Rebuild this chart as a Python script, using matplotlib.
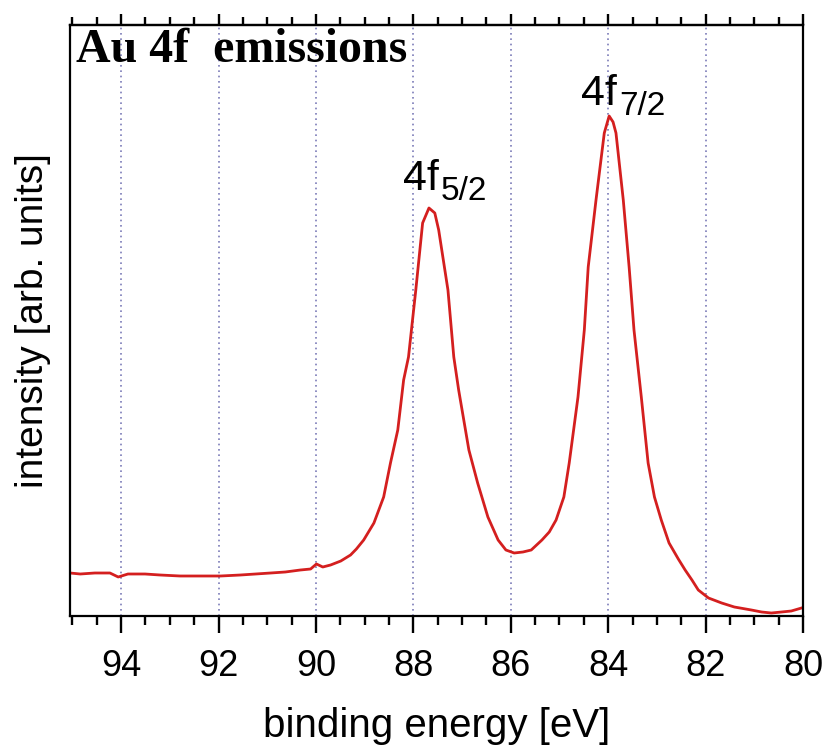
#! /usr/bin/env python3
# Au 4f XPS spectrum

import matplotlib.pyplot as plt
import matplotlib.transforms as mtransforms
from matplotlib.ticker import MultipleLocator

plt.rcParams['font.family'] = ['Liberation Sans', 'DejaVu Sans']

# binding energy [eV] and intensity [arb. units]
energy = [95.05, 94.84, 94.54, 94.23, 94.06, 93.86, 93.51, 93.20, 92.79, 92.38,
          91.96, 91.55, 91.24, 90.93, 90.63, 90.32, 90.11, 89.99, 89.86, 89.70,
          89.49, 89.29, 89.17, 89.02, 88.81, 88.61, 88.47, 88.32, 88.20, 88.10,
          87.95, 87.81, 87.68, 87.56, 87.48, 87.29, 87.17, 87.07, 86.86, 86.68,
          86.47, 86.26, 86.10, 85.93, 85.75, 85.58, 85.36, 85.21, 85.07, 84.91,
          84.80, 84.62, 84.49, 84.41, 84.25, 84.08, 83.98, 83.90, 83.84, 83.69,
          83.57, 83.47, 83.32, 83.18, 83.05, 82.91, 82.75, 82.56, 82.42, 82.28,
          82.15, 81.94, 81.67, 81.41, 81.06, 80.85, 80.65, 80.44, 80.24, 80.03]
intensity = [43, 42, 43, 43, 39, 42, 42, 41, 40, 40,
             40, 41, 42, 43, 44, 46, 47, 52, 49, 51,
             55, 61, 67, 76, 93, 119, 153, 186, 236, 259,
             326, 393, 408, 403, 386, 326, 259, 226, 166, 133,
             99, 76, 66, 63, 64, 66, 76, 84, 96, 119,
             153, 219, 286, 349, 416, 483, 500, 494, 483, 416,
             349, 286, 219, 153, 119, 96, 73, 57, 46, 36,
             26, 18, 13, 9, 6, 4, 3, 4, 5, 8]

peak_main = ['4f', '4f']
peak_sub = ['5/2', '7/2']
peak_pos = [(88.22, 426), (84.56, 511)]

fig = plt.figure(figsize=(8.28, 7.5), dpi=100)
ax = fig.add_axes([70/828, 1 - 616/750, 733/828, 591/750])

ax.plot(energy, intensity, color='#d41f1f', lw=2.0)

ax.set_xlim(95.05, 80)
ax.set_ylim(0, 591)

ax.xaxis.set_major_locator(MultipleLocator(2))
ax.xaxis.set_minor_locator(MultipleLocator(0.5))
ax.set_yticks([])
ax.tick_params(axis='x', which='major', direction='out', length=12, width=1.7,
               labelsize=26, pad=12)
ax.tick_params(axis='x', which='minor', direction='out', length=6.5, width=1.7)
for s in ax.spines.values():
    s.set_linewidth(1.6)

# ticks on the top edge, shorter, no labels
top = ax.secondary_xaxis('top')
top.xaxis.set_major_locator(MultipleLocator(2))
top.xaxis.set_minor_locator(MultipleLocator(0.5))
top.tick_params(which='major', direction='out', length=8, width=1.7, labeltop=False)
top.tick_params(which='minor', direction='out', length=5.5, width=1.7)
top.spines['top'].set_linewidth(1.6)

ax.xaxis.grid(True, which='major', linestyle=(0, (1, 2.2)), color='#7c7cb8', lw=1.2)

ax.set_xlabel('binding energy [eV]', fontsize=29, labelpad=16)
ax.set_ylabel('intensity [arb. units]', fontsize=28, labelpad=14)

ax.text(0.008, 0.9374, 'Au 4f  emissions', transform=ax.transAxes,
        family=['Liberation Serif'], fontweight='bold', fontsize=34.5,
        va='baseline', ha='left')

# peak labels: "4f" with a subscript drawn as a second text
for m, sub, (x, y) in zip(peak_main, peak_sub, peak_pos):
    ax.text(x, y, m, fontsize=31, va='baseline', ha='left')
    tr = mtransforms.offset_copy(ax.transData, fig=fig, x=38, y=-10, units='dots')
    ax.text(x, y, sub, fontsize=24, va='baseline', ha='left', transform=tr)

plt.savefig('out.png', dpi=100)
